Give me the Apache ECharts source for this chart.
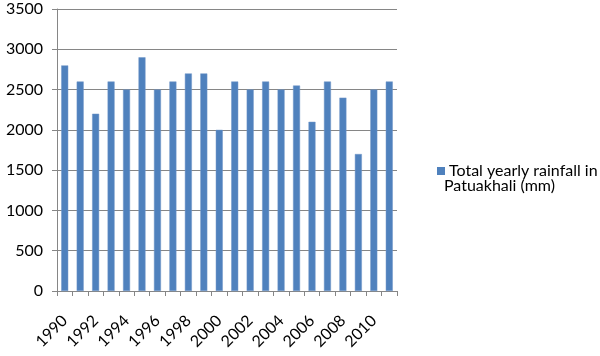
<!DOCTYPE html>
<html><head><meta charset="utf-8">
<script src="https://cdn.jsdelivr.net/npm/echarts@6/dist/echarts.min.js"></script>
<style>html,body{margin:0;padding:0;background:#fff}#c{width:600px;height:356px}</style>
</head><body><div id="c"></div>
<script>
const years = ['1990','1991','1992','1993','1994','1995','1996','1997','1998','1999','2000','2001','2002','2003','2004','2005','2006','2007','2008','2009','2010','2011'];
const rainfall = [2800,2600,2200,2600,2500,2900,2500,2600,2700,2700,2000,2600,2500,2600,2500,2550,2100,2600,2400,1700,2500,2600];
const yTicks = {min:0,max:3500,interval:500};
const seriesName = 'Total yearly rainfall in Patuakhali (mm)';
const legendLine1 = 'Total yearly rainfall in';
const legendLine2 = 'Patuakhali (mm)';
const font = 'Lato';
const chart = echarts.init(document.getElementById('c'));
chart.setOption({
  animation:false,
  backgroundColor:'#fff',
  grid:{left:57,right:203,top:9,bottom:65},
  legend:{left:432,top:158,itemWidth:8,itemHeight:8,itemGap:0,icon:'rect',
    formatter:()=>legendLine1,
    itemStyle:{borderWidth:0},
    textStyle:{fontFamily:font,fontSize:16,color:'#000',padding:[0,0,4,-1]}},
  graphic:[{type:'text',left:444,top:178,style:{text:legendLine2,font:'16px '+font,fill:'#000'}}],
  xAxis:{type:'category',data:years,
    axisLine:{lineStyle:{color:'#868686'}},
    axisTick:{show:true,interval:0,length:5,lineStyle:{color:'#868686'}},
    axisLabel:{interval:1,rotate:45,margin:27,fontFamily:font,fontSize:16,color:'#000'}},
  yAxis:{type:'value',min:yTicks.min,max:yTicks.max,interval:yTicks.interval,
    axisLine:{show:true,lineStyle:{color:'#868686'}},
    axisTick:{show:true,length:5,lineStyle:{color:'#868686'}},
    splitLine:{lineStyle:{color:'#868686'}},
    axisLabel:{margin:14,fontFamily:font,fontSize:16,color:'#000',formatter:v=>String(v)}},
  series:[{name:seriesName,type:'bar',data:rainfall,barWidth:7,
    itemStyle:{color:'#4F81BD',borderColor:'#7096C8',borderWidth:0.5}}]
});
</script></body></html>
